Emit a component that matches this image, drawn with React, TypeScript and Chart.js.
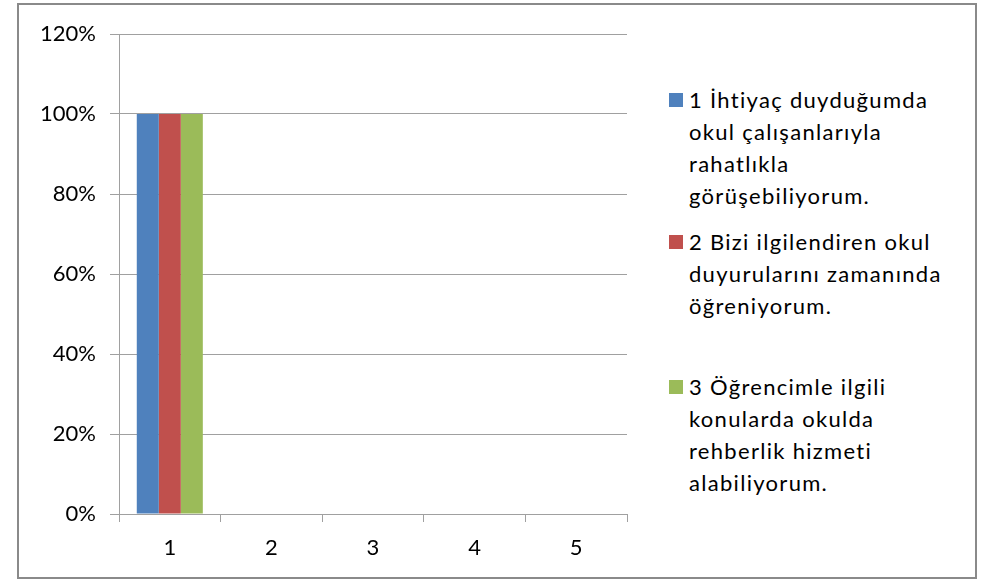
import React, { useEffect, useRef } from "react";
import { Chart, registerables } from "chart.js";

Chart.register(...registerables);

const categories = ["1", "2", "3", "4", "5"];
const series1Values = [100, 0, 0, 0, 0];
const series2Values = [100, 0, 0, 0, 0];
const series3Values = [100, 0, 0, 0, 0];
const yTicks = [0, 20, 40, 60, 80, 100, 120];

const series1Lines = ["1 İhtiyaç duyduğumda", "okul çalışanlarıyla", "rahatlıkla", "görüşebiliyorum."];
const series2Lines = ["2 Bizi ilgilendiren okul", "duyurularını zamanında", "öğreniyorum."];
const series3Lines = ["3 Öğrencimle ilgili", "konularda okulda", "rehberlik hizmeti", "alabiliyorum."];

const colors = ["#4F81BD", "#C0504D", "#9BBB59"];
const FONT = "Lato, 'Open Sans', sans-serif";

export default function App() {
  const ref = useRef<HTMLCanvasElement | null>(null);

  useEffect(() => {
    if (!ref.current) return;
    const chart = new Chart(ref.current, {
      type: "bar",
      data: {
        labels: categories,
        datasets: [
          { label: series1Lines.join(" "), data: series1Values, backgroundColor: colors[0] },
          { label: series2Lines.join(" "), data: series2Values, backgroundColor: colors[1] },
          { label: series3Lines.join(" "), data: series3Values, backgroundColor: colors[2] },
        ],
      },
      options: {
        responsive: false,
        animation: false,
        devicePixelRatio: 1,
        layout: { padding: { top: 34, right: 13, left: 0, bottom: 0 } },
        plugins: { legend: { display: false }, tooltip: { enabled: false } },
        datasets: { bar: { categoryPercentage: 0.65, barPercentage: 1.0 } },
        scales: {
          x: {
            grid: { drawOnChartArea: false, drawTicks: true, tickLength: 8, color: "#a0a0a0", offset: true },
            border: { display: true, color: "#a0a0a0" },
            ticks: { color: "#000", font: { family: FONT, size: 22 }, padding: 13 },
            afterFit: (s: any) => { s.height = 65; },
          },
          y: {
            min: 0,
            max: 120,
            afterBuildTicks: (s: any) => { s.ticks = yTicks.map((v) => ({ value: v })); },
            grid: { color: "#a0a0a0", tickLength: 9 },
            border: { display: true, color: "#a0a0a0" },
            ticks: { color: "#000", font: { family: FONT, size: 22 }, padding: 14, callback: (v: any) => v + "%" },
            afterFit: (s: any) => { s.width = 119; },
          },
        },
      },
    });
    return () => chart.destroy();
  }, []);

  const legendItem = (lines: string[], color: string, top: number) => (
    <div style={{ position: "absolute", left: 669, top, display: "flex", alignItems: "flex-start" }}>
      <div style={{ width: 14, height: 14, background: color, marginTop: 9, marginRight: 6 }} />
      <div style={{ fontFamily: FONT, fontSize: 22, letterSpacing: "1.3px", lineHeight: "32px", color: "#000" }}>
        {lines.map((l, i) => (
          <div key={i} style={{ whiteSpace: "nowrap" }}>{l}</div>
        ))}
      </div>
    </div>
  );

  return (
    <div style={{ position: "fixed", left: 0, top: 0, width: 984, height: 579, background: "#fff", overflow: "hidden" }}>
      <div style={{ position: "absolute", left: 17, top: 3, width: 956, height: 572, border: "2px solid #8a8a8a" }} />
      <canvas ref={ref} width={640} height={579} style={{ position: "absolute", left: 0, top: 0, width: 640, height: 579 }} />
      {legendItem(series1Lines, colors[0], 84)}
      {legendItem(series2Lines, colors[1], 226)}
      {legendItem(series3Lines, colors[2], 371)}
    </div>
  );
}
